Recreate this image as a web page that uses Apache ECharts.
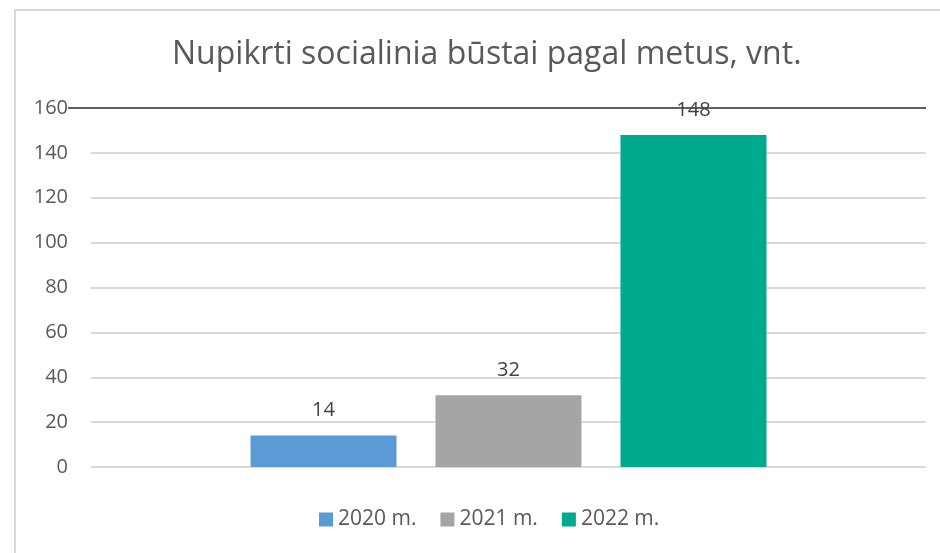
<!DOCTYPE html>
<html>
<head>
    <meta charset="utf-8">
    <title>Nupikrti socialinia būstai</title>
    <style type="text/css">
        html, body {
            margin: 0;
            padding: 0;
            background: #ffffff;
        }
        #chart {
            width: 940px;
            height: 553px;
        }
    </style>
</head>
<body>
    <div id="chart"></div>

    <script src="https://cdn.jsdelivr.net/npm/echarts@6/dist/echarts.min.js"></script>
    <script type="text/javascript">
        // data
        var titleText = 'Nupikrti socialinia būstai pagal metus, vnt.';
        var categories = [''];
        var seriesNames = ['2020 m.', '2021 m.', '2022 m.'];
        var seriesValues = [[14], [32], [148]];
        var seriesColors = ['#5B9BD5', '#A5A5A5', '#00AA8D'];
        var yMin = 0;
        var yMax = 160;
        var yStep = 20;

        var font = '"Open Sans", "DejaVu Sans", sans-serif';

        var series = [];
        for (var i = 0; i < seriesNames.length; i++) {
            series.push({
                name: seriesNames[i],
                type: 'bar',
                data: seriesValues[i],
                barWidth: 146,
                barGap: '26.7%',
                itemStyle: { color: seriesColors[i] },
                label: {
                    show: true,
                    position: 'top',
                    distance: 15,
                    color: '#404040',
                    fontSize: 20,
                    fontFamily: font
                }
            });
        }

        var chart = echarts.init(document.getElementById('chart'));
        var option = {
            backgroundColor: '#ffffff',
            animation: false,
            title: {
                text: titleText,
                left: 172,
                top: 39,
                padding: 0,
                textStyle: {
                    color: '#595959',
                    fontSize: 32,
                    fontWeight: 'normal',
                    fontFamily: font
                }
            },
            legend: {
                data: seriesNames,
                left: 319,
                top: 509,
                padding: 0,
                itemWidth: 14,
                itemHeight: 14,
                itemGap: 24,
                icon: 'rect',
                textStyle: {
                    color: '#595959',
                    fontSize: 21,
                    fontFamily: font
                }
            },
            grid: {
                left: 91,
                right: 14,
                top: 108,
                bottom: 86
            },
            xAxis: {
                type: 'category',
                data: categories,
                axisLine: { show: false },
                axisTick: { show: false },
                axisLabel: { show: false }
            },
            yAxis: {
                type: 'value',
                min: yMin,
                max: yMax,
                interval: yStep,
                axisLine: { show: false },
                axisTick: { show: false },
                axisLabel: {
                    margin: 23,
                    color: '#595959',
                    fontSize: 20,
                    fontFamily: font
                },
                splitLine: {
                    lineStyle: { color: '#d9d9d9', width: 2 }
                }
            },
            series: series
        };
        chart.setOption(option);

        // outer frame and the dark line at the top value
        var topY = chart.convertToPixel({ yAxisIndex: 0 }, yMax);
        chart.setOption({
            graphic: [
                {
                    type: 'rect',
                    shape: { x: 15, y: 10, width: 1000, height: 1000 },
                    style: { fill: 'none', stroke: '#d9d9d9', lineWidth: 2 },
                    silent: true
                },
                {
                    type: 'line',
                    shape: { x1: 68, y1: topY, x2: 926, y2: topY },
                    style: { stroke: '#5f5f5f', lineWidth: 2 },
                    z: 1,
                    silent: true
                }
            ]
        });
    </script>
</body>
</html>
